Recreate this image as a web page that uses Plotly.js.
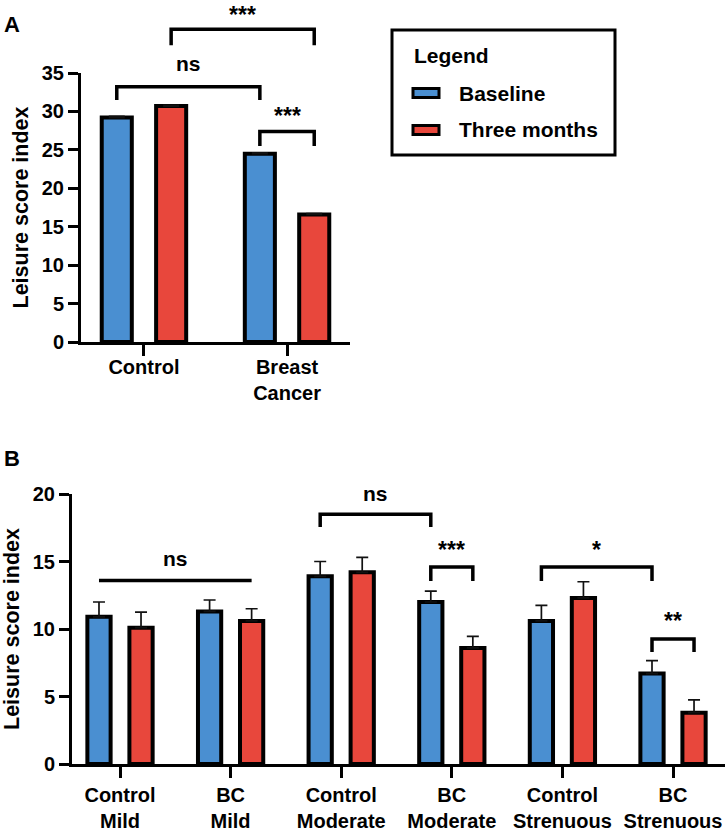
<!DOCTYPE html>
<html>
<head>
<meta charset="utf-8">
<script src="https://cdn.plot.ly/plotly-3.0.1.min.js"></script>
<style>html,body{margin:0;padding:0;background:#fff;}#chart{width:726px;height:831px;}</style>
</head>
<body>
<div id="chart"></div>
<script>
// ---------- Data ----------
const seriesNames = ['Baseline', 'Three months'];

// Panel A
const categoriesA = ['Control', 'Breast<br>Cancer'];
const baselineA = [29.2, 24.5];
const threeMonthsA = [30.7, 16.6];
const baselineErrA = [0.15, 0.1];
const threeMonthsErrA = [0.1, 0.1];

// Panel B
const categoriesB = ['Control<br>Mild', 'BC<br>Mild', 'Control<br>Moderate', 'BC<br>Moderate', 'Control<br>Strenuous', 'BC<br>Strenuous'];
const baselineB = [10.9, 11.3, 13.9, 12.0, 10.6, 6.7];
const threeMonthsB = [10.1, 10.6, 14.2, 8.6, 12.3, 3.8];
const baselineErrB = [1.1, 0.85, 1.1, 0.8, 1.15, 0.95];
const threeMonthsErrB = [1.15, 0.9, 1.1, 0.85, 1.2, 0.95];

// Significance brackets: [fromCategory, fromSeries, toCategory, toSeries, barY, dropY, label, labelY]
const bracketsA = [
  [0, 0, 1, 0, 33.2, 31.5, 'ns', 36.0],
  [0, 1, 1, 1, 40.7, 38.6, '***', 43.6],
  [1, 0, 1, 1, 27.4, 25.5, '***', 29.8]
];
const bracketsB = [
  [0, 0, 1, 1, 13.6, 13.6, 'ns', 15.1],
  [2, 0, 3, 0, 18.5, 17.55, 'ns', 19.9],
  [3, 0, 3, 1, 14.6, 13.55, '***', 16.1],
  [4, 0, 5, 0, 14.6, 13.55, '*', 16.1],
  [5, 0, 5, 1, 9.26, 8.3, '**', 10.8]
];

// ---------- Styles ----------
const W = 726, H = 831;
const FONT = 'Liberation Sans, Arial, Helvetica, sans-serif';
const BLUE = '#4A8FD1';
const RED = '#E8473C';
const seriesColors = [BLUE, RED];
const BAR_OFFSET = 0.19;   // half distance between the two bars of a group (category units)

const axA = {x: [81 / W, 350 / W], y: [1 - 342 / H, 1 - 73 / H], xr: [-0.44, 1.44], yr: [0, 35]};
const axB = {x: [72 / W, 725 / W], y: [1 - 764 / H, 1 - 494 / H], xr: [-0.434, 5.47], yr: [0, 20]};

function px(ax, v) { return ax.x[0] + (v - ax.xr[0]) / (ax.xr[1] - ax.xr[0]) * (ax.x[1] - ax.x[0]); }
function py(ax, v) { return ax.y[0] + (v - ax.yr[0]) / (ax.yr[1] - ax.yr[0]) * (ax.y[1] - ax.y[0]); }

function barTrace(name, cats, vals, errs, color, xa, ya, errWidth) {
  return {
    type: 'bar', name: name, x: cats, y: vals, xaxis: xa, yaxis: ya,
    marker: {color: color, line: {color: '#000', width: 4}},
    error_y: {type: 'data', array: errs, arrayminus: errs.map(() => 0), symmetric: false,
              color: '#111', thickness: 1.7, width: errWidth},
    showlegend: false, hoverinfo: 'skip'
  };
}

const traces = [
  barTrace(seriesNames[0], categoriesA, baselineA, baselineErrA, BLUE, 'x', 'y', 8),
  barTrace(seriesNames[1], categoriesA, threeMonthsA, threeMonthsErrA, RED, 'x', 'y', 8),
  barTrace(seriesNames[0], categoriesB, baselineB, baselineErrB, BLUE, 'x2', 'y2', 6),
  barTrace(seriesNames[1], categoriesB, threeMonthsB, threeMonthsErrB, RED, 'x2', 'y2', 6)
];

const shapes = [];
const annotations = [];

function addBrackets(list, ax) {
  list.forEach(b => {
    const [c0, s0, c1, s1, yb, yd, label, ly] = b;
    const x0 = px(ax, c0 + (s0 === 0 ? -BAR_OFFSET : BAR_OFFSET));
    const x1 = px(ax, c1 + (s1 === 0 ? -BAR_OFFSET : BAR_OFFSET));
    const yB = py(ax, yb), yD = py(ax, yd);
    shapes.push({type: 'path', xref: 'paper', yref: 'paper',
      path: `M${x0},${yD} L${x0},${yB} L${x1},${yB} L${x1},${yD}`,
      line: {color: '#000', width: 3.5}});
    const isStar = label.indexOf('*') >= 0;
    let yl = py(ax, ly), anchor = 'middle', shift = isStar ? -3 : 2;
    if (yl > 1 - 20 / H) { yl = 1; anchor = 'top'; shift = 0; }   // keep the label inside the page
    annotations.push({xref: 'paper', yref: 'paper', x: (x0 + x1) / 2, y: yl,
      text: label, showarrow: false, xanchor: 'center', yanchor: anchor,
      yshift: shift,
      font: {family: FONT, size: isStar ? 23 : 21, color: '#000', weight: 'bold'}});
  });
}
addBrackets(bracketsA, axA);
addBrackets(bracketsB, axB);

// Panel letters
annotations.push({xref: 'paper', yref: 'paper', x: 2 / W, y: 1 - 25 / H, text: 'A', showarrow: false,
  xanchor: 'left', yanchor: 'middle', font: {family: FONT, size: 22, color: '#000', weight: 'bold'}});
annotations.push({xref: 'paper', yref: 'paper', x: 2 / W, y: 1 - 458 / H, text: 'B', showarrow: false,
  xanchor: 'left', yanchor: 'middle', font: {family: FONT, size: 22, color: '#000', weight: 'bold'}});

// Legend box (drawn)
shapes.push({type: 'rect', xref: 'paper', yref: 'paper', x0: 392 / W, x1: 615 / W, y0: 1 - 155 / H, y1: 1 - 30 / H,
  line: {color: '#000', width: 3}, fillcolor: 'rgba(0,0,0,0)'});
annotations.push({xref: 'paper', yref: 'paper', x: 412 / W, y: 1 - 55 / H, text: 'Legend', showarrow: false,
  xanchor: 'left', yanchor: 'middle', font: {family: FONT, size: 21, color: '#000', weight: 'bold'}});
const legendRows = [93, 130];
seriesNames.forEach((n, i) => {
  const yc = legendRows[i];
  shapes.push({type: 'rect', xref: 'paper', yref: 'paper', x0: 413 / W, x1: 439 / W,
    y0: 1 - (yc + 4.5) / H, y1: 1 - (yc - 4.5) / H, line: {color: '#000', width: 3}, fillcolor: seriesColors[i]});
  annotations.push({xref: 'paper', yref: 'paper', x: 457 / W, y: 1 - yc / H, text: n, showarrow: false,
    xanchor: 'left', yanchor: 'middle', font: {family: FONT, size: 21, color: '#000', weight: 'bold'}});
});

function yAxis(ax, dtick, anchor) {
  return {domain: ax.y, range: ax.yr, anchor: anchor, dtick: dtick, tick0: 0,
    showline: true, linecolor: '#000', linewidth: 3, ticks: 'outside', ticklen: 10, tickwidth: 3, tickcolor: '#000',
    showgrid: false, zeroline: false, fixedrange: true,
    tickfont: {family: FONT, size: 20, color: '#000', weight: 'bold'},
    title: {text: 'Leisure score index', standoff: 8, font: {family: FONT, size: 21.5, color: '#000', weight: 'bold'}}};
}
function xAxis(ax, anchor, standoff) {
  return {domain: ax.x, range: ax.xr, anchor: anchor, type: 'category',
    showline: true, linecolor: '#000', linewidth: 3, ticks: 'outside', ticklen: 11, tickwidth: 3, tickcolor: '#000',
    showgrid: false, zeroline: false, fixedrange: true, ticklabelstandoff: standoff,
    tickfont: {family: FONT, size: 20, color: '#000', weight: 'bold'}};
}

const layout = {
  width: W, height: H,
  margin: {l: 0, r: 0, t: 0, b: 0},
  paper_bgcolor: '#fff', plot_bgcolor: '#fff',
  barmode: 'group', bargap: 0.24, bargroupgap: 0.447,
  showlegend: false,
  xaxis: xAxis(axA, 'y', -6),
  yaxis: yAxis(axA, 5, 'x'),
  xaxis2: xAxis(axB, 'y2', 0),
  yaxis2: yAxis(axB, 5, 'x2'),
  shapes: shapes,
  annotations: annotations
};

Plotly.newPlot('chart', traces, layout, {displayModeBar: false, staticPlot: true});
</script>
</body>
</html>
